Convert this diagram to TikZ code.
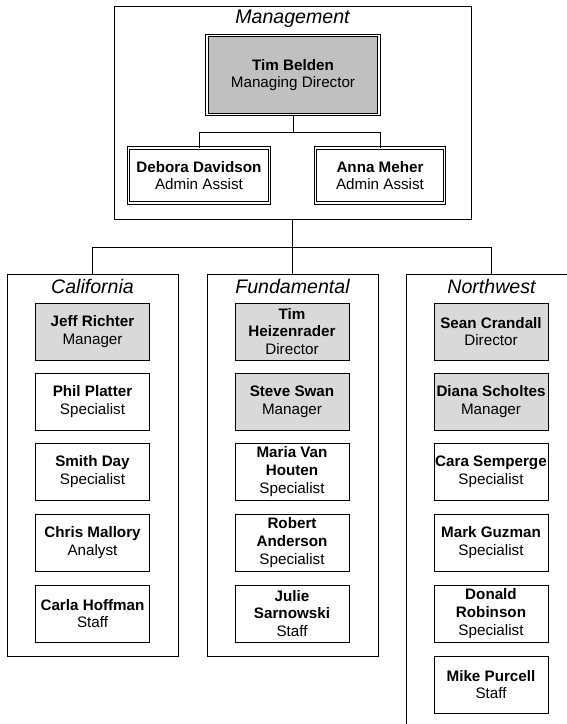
\documentclass[tikz,border=0pt]{standalone}
\usepackage{fontspec}
\setmainfont{Liberation Sans}

\definecolor{bossgray}{RGB}{192,192,192}
\definecolor{leadgray}{RGB}{217,217,217}

\tikzset{
	groupbox/.style={draw, line width=0.9pt, inner sep=0pt, minimum width=171pt, minimum height=382pt},
	grouptitle/.style={anchor=base, inner sep=0pt, font=\fontsize{19.6}{22}\selectfont\itshape},
	person/.style={draw, line width=0.9pt, fill=white, inner sep=0pt, align=center,
		minimum width=114pt, minimum height=57pt, font=\fontsize{15.2}{17.6}\selectfont},
	leadbox/.style={person, fill=leadgray},
	headbox/.style={person, double=white, double distance=1.7pt, minimum height=55pt},
	link/.style={line width=0.9pt}
}

\begin{document}
\begin{tikzpicture}[x={(1pt,0pt)},y={(0pt,-1pt)}]
	\useasboundingbox (0,0) rectangle (567,724);

	% management on top
	\node[draw, line width=0.9pt, minimum width=357pt, minimum height=213pt] (mgmt) at (292.5,112.5) {};
	\node[grouptitle] at (292.5,23.5) {Management};
	\node[headbox, fill=bossgray, minimum width=172pt, minimum height=79pt] (belden) at (293,75) {\textbf{Tim Belden}\\Managing Director};
	\node[headbox, minimum width=141pt] (debora) at (199,175.5) {\textbf{Debora Davidson}\\Admin Assist};
	\node[headbox, minimum width=129pt] (anna) at (380,175.5) {\textbf{Anna Meher}\\Admin Assist};
	\draw[link] (belden.south) -- ++(0,17) -| (debora.north);
	\draw[link] (belden.south) -- ++(0,17) -| (anna.north);

	% the three groups
	\node[groupbox] (calif) at (92.5,465.5) {};
	\node[groupbox] (fund) at (292.5,465.5) {};
	\node[groupbox, minimum height=500pt] (nw) at (491.5,524.5) {};
	\node[grouptitle] at (92.5,293) {California};
	\node[grouptitle] at (292.5,293) {Fundamental};
	\node[grouptitle] at (491.5,293) {Northwest};
	\draw[link] (mgmt.south) -- ++(0,28) -| (calif.north);
	\draw[link] (mgmt.south) -- ++(0,28) -| (fund.north);
	\draw[link] (mgmt.south) -- ++(0,28) -| (nw.north);

	% California
	\node[leadbox] (jeff) at (92.5,331.5) {\textbf{Jeff Richter}\\Manager};
	\node[person] (phil) at (92.5,401.5) {\textbf{Phil Platter}\\Specialist};
	\node[person] (smith) at (92.5,471.5) {\textbf{Smith Day}\\Specialist};
	\node[person] (chris) at (92.5,542.5) {\textbf{Chris Mallory}\\Analyst};
	\node[person] (carla) at (92.5,613.5) {\textbf{Carla Hoffman}\\Staff};

	% Fundamental
	\node[leadbox] (heizen) at (292,331.5) {\textbf{Tim}\\\textbf{Heizenrader}\\Director};
	\node[leadbox] (steve) at (292,401.5) {\textbf{Steve Swan}\\Manager};
	\node[person] (maria) at (292,471.5) {\textbf{Maria Van}\\\textbf{Houten}\\Specialist};
	\node[person] (robert) at (292,542.5) {\textbf{Robert}\\\textbf{Anderson}\\Specialist};
	\node[person] (julie) at (292,613.5) {\textbf{Julie}\\\textbf{Sarnowski}\\Staff};

	% Northwest
	\node[leadbox] (sean) at (491,331.5) {\textbf{Sean Crandall}\\Director};
	\node[leadbox] (diana) at (491,401.5) {\textbf{Diana Scholtes}\\Manager};
	\node[person] (cara) at (491,471.5) {\textbf{Cara Semperge}\\Specialist};
	\node[person] (mark) at (491,542.5) {\textbf{Mark Guzman}\\Specialist};
	\node[person] (donald) at (491,613.5) {\textbf{Donald}\\\textbf{Robinson}\\Specialist};
	\node[person] (mike) at (491,684.5) {\textbf{Mike Purcell}\\Staff};
\end{tikzpicture}
\end{document}
